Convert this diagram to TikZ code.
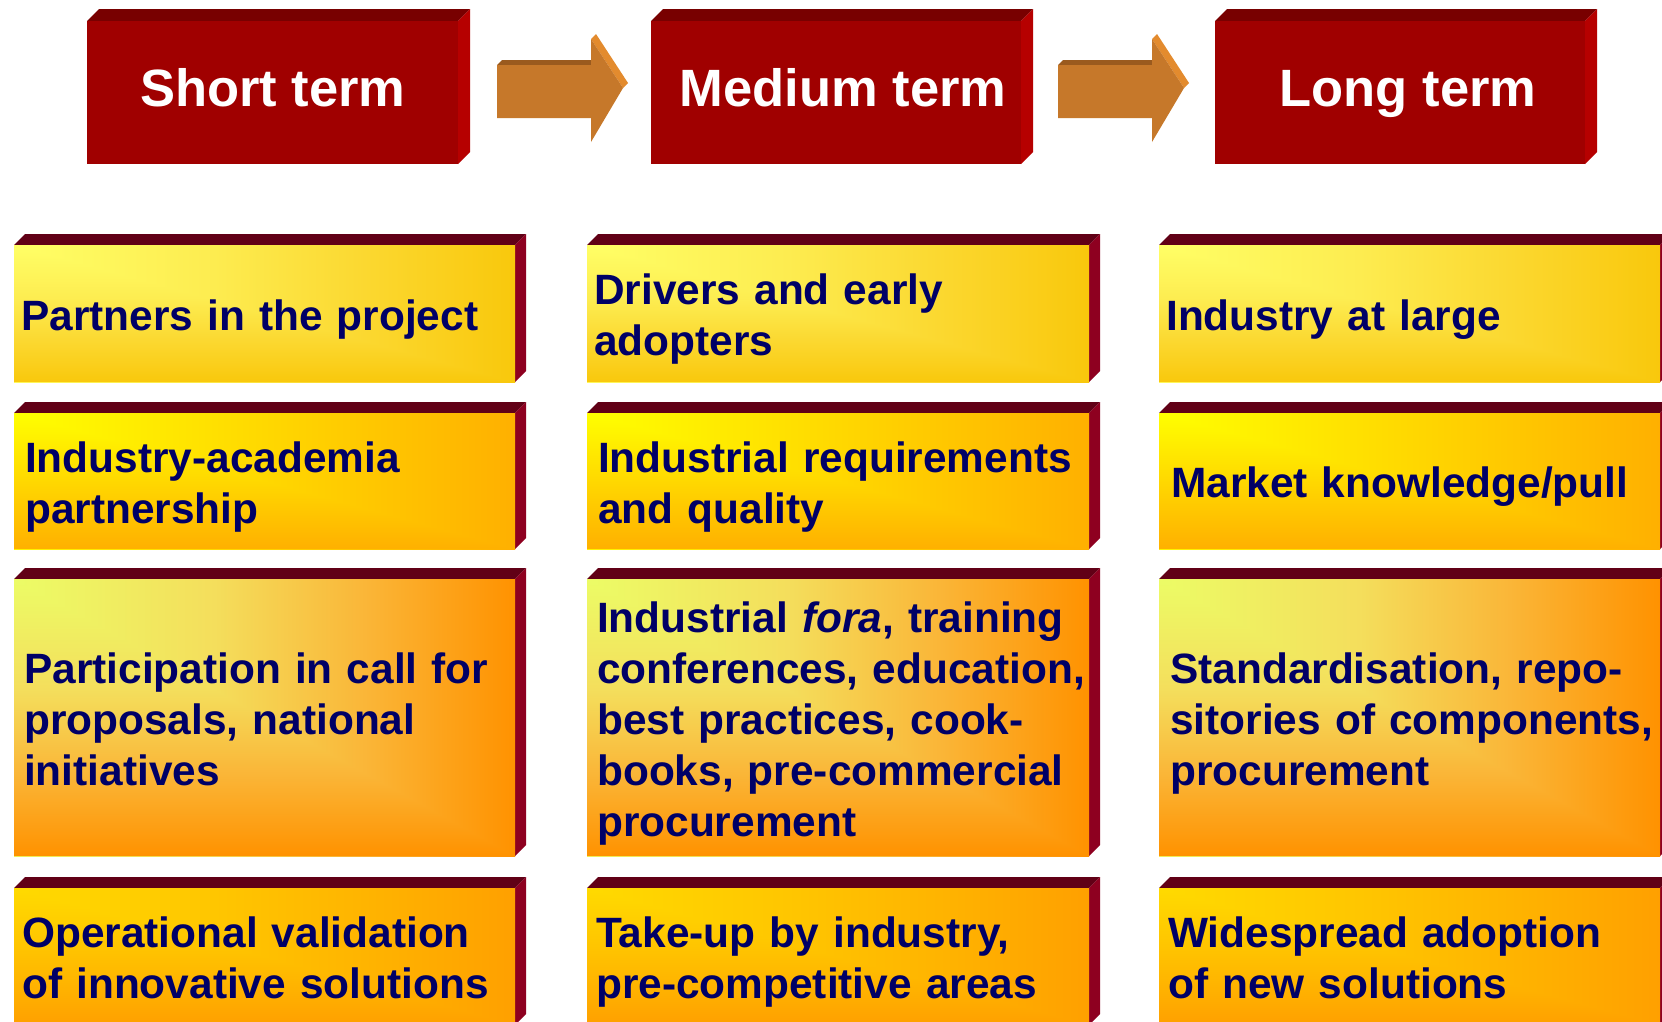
\documentclass[tikz,border=0pt]{standalone}
\usepackage{fontspec}
\setmainfont{Liberation Sans}

% palette
\definecolor{navytext}{HTML}{000066}
\definecolor{hdrfront}{HTML}{A00000}
\definecolor{hdrtop}{HTML}{780000}
\definecolor{hdrside}{HTML}{B60000}
\definecolor{celltop}{HTML}{610016}
\definecolor{cellside}{HTML}{8E0020}
\definecolor{arrfront}{HTML}{C6782A}
\definecolor{arrtop}{HTML}{9A5A1E}
\definecolor{arredge}{HTML}{E38B2E}

% gradient colours of the four rows (start, 40%, 70%, end)
\definecolor{aA}{HTML}{FFFF66}\definecolor{aB}{HTML}{FDEC50}\definecolor{aC}{HTML}{FBD830}\definecolor{aD}{HTML}{F9C80C}
\definecolor{bA}{HTML}{FFFF00}\definecolor{bB}{HTML}{FFE000}\definecolor{bC}{HTML}{FFC800}\definecolor{bD}{HTML}{FFB000}
\definecolor{cA}{HTML}{ECFC66}\definecolor{cB}{HTML}{F4DE5C}\definecolor{cC}{HTML}{FAB638}\definecolor{cD}{HTML}{FF9200}
\definecolor{dA}{HTML}{FFDA00}\definecolor{dB}{HTML}{FFC600}\definecolor{dC}{HTML}{FFB400}\definecolor{dD}{HTML}{FFA000}

% a "from corner" fill: horizontal ramp plus the same ramp vertically in the lower-left triangle
\newcommand\cornershading[5]{%
  \pgfdeclarehorizontalshading{#1h}{100bp}{color(0bp)=(#2); color(25bp)=(#2); color(45bp)=(#3); color(60bp)=(#4); color(75bp)=(#5); color(100bp)=(#5)}%
  \pgfdeclareverticalshading{#1v}{100bp}{color(0bp)=(#5); color(25bp)=(#5); color(40bp)=(#4); color(55bp)=(#3); color(75bp)=(#2); color(100bp)=(#2)}}
\cornershading{rowa}{aA}{aB}{aC}{aD}
\cornershading{rowb}{bA}{bB}{bC}{bD}
\cornershading{rowc}{cA}{cB}{cC}{cD}
\cornershading{rowd}{dA}{dB}{dC}{dD}

\tikzset{
  celltopface/.style={fill=celltop},
  cellsideface/.style={fill=cellside},
  hdrtopface/.style={fill=hdrtop},
  hdrsideface/.style={fill=hdrside},
  hdrfrontface/.style={fill=hdrfront},
  celltext/.style={text=navytext, inner sep=0pt, text width=560pt, align=left,
    font=\fontsize{42.4}{51}\selectfont\bfseries},
  hdrtext/.style={text=white, inner sep=0pt, anchor=base,
    font=\fontsize{52.5}{60}\selectfont\bfseries},
}

% raised box with text: name, x0, y0, x1, y1, shading, lines, inset, text
\newcommand\cell[9]{%
  \fill[celltopface] (#2,#3) -- ++(11,-11) -- (#4+11,#3-11) -- (#4,#3) -- cycle;
  \fill[cellsideface] (#4,#3) -- ++(11,-11) -- (#4+11,#5-11) -- (#4,#5) -- cycle;
  \shade[shading=#6h] (#2,#3) rectangle (#4,#5);
  \shade[shading=#6v] (#2,#3) -- (#4,#5) -- (#2,#5) -- cycle;
  \pgfmathsetmacro\firstbase{(#3+#5)/2+16.5-(#7-1)*25.5}
  \node[celltext, anchor=north west] (#1) at (#2+#8,\firstbase-40) {\rule{0pt}{40pt}#9};
}

% red heading block: name, x0, x1, text centre, text
\newcommand\heading[5]{%
  \fill[hdrtopface] (#2,21) -- ++(12,-12) -- (#3+12,9) -- (#3,21) -- cycle;
  \fill[hdrsideface] (#3,21) -- (#3+12,9) -- (#3+12,152) -- (#3,164) -- cycle;
  \fill[hdrfrontface] (#2,21) rectangle (#3,164);
  \node[hdrtext] (#1) at (#4,106) {#5};
}

% extruded block arrow, shifted horizontally
\newcommand\blockarrow[1]{%
  \begin{scope}[shift={(#1,0)}]
    \fill[arrtop] (497,65) -- (502,60) -- (596,60) -- (591,65) -- cycle;
    \fill[arredge] (591,39) -- (596,34) -- (628,83) -- (623,88) -- cycle;
    \fill[arrfront] (497,65) -- (591,65) -- (591,39) -- (623,88) -- (591,142)
      -- (591,118) -- (497,118) -- cycle;
  \end{scope}
}

\begin{document}
\begin{tikzpicture}[x=1pt, y=-1pt]
  \useasboundingbox (0,0) rectangle (1662,1021);
  \fill[white] (0,0) rectangle (1662,1021);
  \clip (0,0) rectangle (1662,1021);

  % headings and arrows
  \heading{short}{87}{458}{273}{Short term}
  \heading{medium}{651}{1021}{843}{Medium term}
  \heading{long}{1215}{1585}{1408}{Long term}
  \blockarrow{0}
  \blockarrow{561}

  % row 1
  \cell{s1}{14}{245}{515}{382}{rowa}{1}{7}{Partners in the project}
  \cell{m1}{587}{245}{1089}{382}{rowa}{2}{7}{Drivers and early\\adopters}
  \cell{l1}{1159}{245}{1660}{382}{rowa}{1}{7}{Industry at large}

  % row 2
  \cell{s2}{14}{413}{515}{549}{rowb}{2}{11}{Industry-academia\\partnership}
  \cell{m2}{587}{413}{1089}{549}{rowb}{2}{11}{Industrial requirements\\and quality}
  \cell{l2}{1159}{413}{1660}{549}{rowb}{1}{12}{Market knowledge/pull}

  % row 3
  \cell{s3}{14}{579}{515}{856}{rowc}{3}{10}{Participation in call for\\proposals, national\\initiatives}
  \cell{m3}{587}{579}{1089}{856}{rowc}{5}{10}{Industrial \textit{fora}, training\\conferences, education,\\best practices, cook-\\books, pre-commercial\\procurement}
  \cell{l3}{1159}{579}{1660}{856}{rowc}{3}{11}{Standardisation, repo-\\sitories of components,\\procurement}

  % row 4
  \cell{s4}{14}{888}{515}{1025}{rowd}{2}{8}{Operational validation\\of innovative solutions}
  \cell{m4}{587}{888}{1089}{1025}{rowd}{2}{9}{Take-up by industry,\\pre-competitive areas}
  \cell{l4}{1159}{888}{1660}{1025}{rowd}{2}{9}{Widespread adoption\\of new solutions}
\end{tikzpicture}
\end{document}
